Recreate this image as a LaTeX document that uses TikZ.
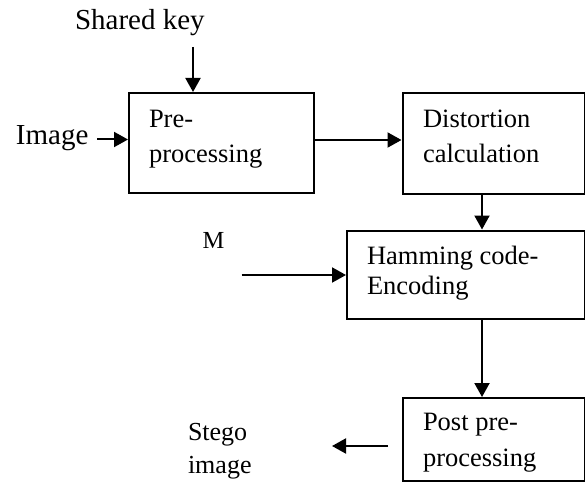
\documentclass[tikz,border=0pt]{standalone}
\usepackage{fontspec}
\setmainfont{Liberation Serif}
\usetikzlibrary{arrows.meta}
\begin{document}
\begin{tikzpicture}[x=1pt,y=-1pt,
  line width=2pt,
  blk/.style n args={2}{draw, line width=2pt, anchor=north west,
    minimum width=#1, minimum height=#2, inner sep=0pt},
  % two-line captions are placed by the baseline of their last line
  txt/.style={inner sep=0pt, anchor=base west, align=left,
    font=\fontsize{26.5pt}{35pt}\selectfont},
  lbl/.style={inner sep=0pt, anchor=base west, align=left,
    font=\fontsize{29pt}{34pt}\selectfont},
  arr/.style={-{Triangle[length=14pt,width=15pt]}, line width=2pt}]
  \path[use as bounding box] (0,0) rectangle (585,481);

  % processing blocks
  \node[blk={185pt}{100pt}] (pre) at (128,92) {};
  \node[blk={182pt}{100pt}] (dist) at (401.5,92.5) {};
  \node[blk={237.5pt}{88pt}] (ham) at (346,229.5) {};
  \node[blk={181.5pt}{82.5pt}] (post) at (402,397) {};

  % block captions
  \node[txt, font=\fontsize{26.5pt}{34.5pt}\selectfont] (pretxt) at (148,162) {Pre-\\processing};
  \node[txt] (disttxt) at (422,162) {Distortion\\calculation};
  \node[txt, font=\fontsize{26.5pt}{30.5pt}\selectfont] (hamtxt) at (366,294.5) {Hamming code-\\Encoding};
  \node[txt, font=\fontsize{26.5pt}{36pt}\selectfont] (posttxt) at (422,466) {Post pre-\\processing};

  % inputs and output labels
  \node[lbl] (key) at (74,29.5) {Shared key};
  \node[lbl] (img) at (15,145) {Image};
  \node[lbl, font=\fontsize{24.5pt}{30pt}\selectfont] (msg) at (201.5,248) {M};
  \node[lbl, font=\fontsize{26pt}{33pt}\selectfont] (stego) at (187,473) {Stego\\image};

  % free ends of the short arrows
  \coordinate (keyend) at (193,47);
  \coordinate (imgend) at (97,139.5);
  \coordinate (msgend) at (241.5,275);
  \coordinate (outstart) at (388,446);
  \coordinate (outend) at (332,446);

  % connectors
  \draw[arr] (keyend) -- (keyend |- pre.north);
  \draw[arr] (imgend) -- (imgend -| pre.west);
  \draw[arr] (pre.east |- 0,140) -- (dist.west |- 0,140);
  \draw[arr] (dist.south -| 482,0) -- (ham.north -| 482,0);
  \draw[arr] (msgend) -- (msgend -| ham.west);
  \draw[arr] (ham.south -| 482,0) -- (post.north -| 482,0);
  \draw[arr] (outstart) -- (outend);
\end{tikzpicture}
\end{document}
